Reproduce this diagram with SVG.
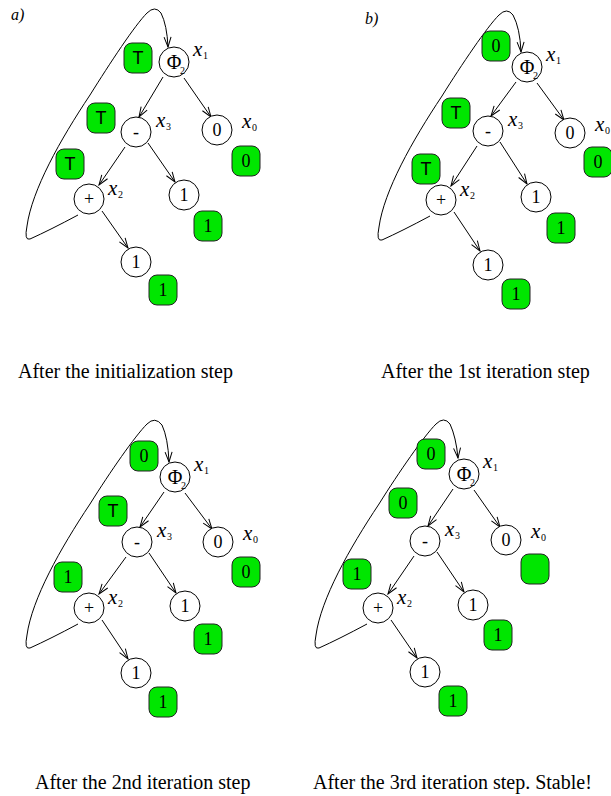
<svg xmlns="http://www.w3.org/2000/svg" width="611" height="796" viewBox="0 0 611 796">
<defs>
<marker id="arr" markerUnits="userSpaceOnUse" markerWidth="14" markerHeight="10" refX="10" refY="3.5" orient="auto" overflow="visible">
<path d="M0,0 L10,3.5 L0,7" fill="none" stroke="#000" stroke-width="1"/>
</marker>
<style>
.n{fill:#fff;stroke:#000;stroke-width:1}
.nt{font-family:"Liberation Serif",serif;font-size:18px;text-anchor:middle;fill:#000}
.phi{font-family:"Liberation Serif",serif;font-size:20px;text-anchor:middle;fill:#000}
.sub2{font-family:"Liberation Serif",serif;font-size:10px;fill:#000}
.g{fill:#00e600;stroke:#222;stroke-width:1}
.gt{font-family:"Liberation Serif",serif;font-size:18px;text-anchor:middle;fill:#000}
.gT{font-family:"Liberation Sans",sans-serif;font-size:18px;text-anchor:middle;fill:#000}
.lab{font-family:"Liberation Serif",serif;font-style:italic;font-size:21px;fill:#000}
.ls{font-family:"Liberation Serif",serif;font-size:10px;fill:#000}
.cap{font-family:"Liberation Serif",serif;font-size:20px;fill:#000}
.pl{font-family:"Liberation Serif",serif;font-style:italic;font-size:16px;fill:#000}
.e{stroke:#000;stroke-width:1;fill:none;marker-end:url(#arr)}
</style>
</defs>
<rect width="611" height="796" fill="#fff"/>

<!-- Panel labels and captions -->
<text class="pl" x="11" y="20">a)</text>
<text class="pl" x="365" y="24">b)</text>
<text class="cap" x="18" y="378">After the initialization step</text>
<text class="cap" x="381" y="378">After the 1st iteration step</text>
<text class="cap" x="35" y="789">After the 2nd iteration step</text>
<text class="cap" x="313" y="789">After the 3rd iteration step. Stable!</text>

<!-- Connectors -->
<g id="connectors">
<path class="e" d="M78,215 Q50,230 30,239 Q24,241 27,226 C32,190 60,140 90,95 C110,63 135,25 147,13 Q155,5 161,13 Q167,25 168,47"/>
<line class="e" x1="163" y1="77" x2="139" y2="117"/>
<line class="e" x1="184" y1="78" x2="211" y2="117"/>
<line class="e" x1="125" y1="147" x2="99" y2="185"/>
<line class="e" x1="148" y1="143" x2="175" y2="182"/>
<line class="e" x1="102" y1="211" x2="128" y2="248"/>

<path class="e" d="M430,216 Q402,231 382,240 Q376,242 379,227 C384,191 412,141 442,96 C462,64 487,27 499,15 Q507,7 513,15 Q520,28 521,52"/>
<line class="e" x1="516" y1="82" x2="491" y2="116"/>
<line class="e" x1="537" y1="83" x2="564" y2="120"/>
<line class="e" x1="477" y1="146" x2="451" y2="186"/>
<line class="e" x1="500" y1="142" x2="527" y2="184"/>
<line class="e" x1="454" y1="212" x2="480" y2="251"/>

<path class="e" d="M78,624 Q50,639 30,648 Q24,650 27,635 C32,599 60,549 90,504 C110,472 135,436 147,424 Q155,416 162,425 Q168,438 169,462"/>
<line class="e" x1="164" y1="492" x2="140" y2="527"/>
<line class="e" x1="185" y1="493" x2="212" y2="529"/>
<line class="e" x1="126" y1="557" x2="99" y2="594"/>
<line class="e" x1="149" y1="553" x2="176" y2="593"/>
<line class="e" x1="102" y1="620" x2="128" y2="659"/>

<path class="e" d="M367,624 Q339,639 319,648 Q313,650 316,635 C321,599 349,549 379,504 C399,472 424,436 436,424 Q444,416 450,424 Q456,437 458,458"/>
<line class="e" x1="453" y1="489" x2="428" y2="526"/>
<line class="e" x1="474" y1="490" x2="500" y2="527"/>
<line class="e" x1="414" y1="556" x2="388" y2="594"/>
<line class="e" x1="437" y1="552" x2="464" y2="592"/>
<line class="e" x1="391" y1="620" x2="417" y2="658"/>
</g>

<!-- Panel a nodes -->
<g id="a-phi"><circle class="n" cx="174" cy="62" r="15"/><text class="phi" x="174" y="69">Φ</text><text class="sub2" x="180" y="74">2</text><text class="lab" x="193" y="56">x</text><text class="ls" x="203" y="59">1</text></g>
<g id="a-minus"><circle class="n" cx="136" cy="132" r="15"/><text class="nt" x="136" y="138">-</text><text class="lab" x="156" y="127">x</text><text class="ls" x="166" y="130">3</text></g>
<g id="a-zero"><circle class="n" cx="217" cy="130" r="15"/><text class="nt" x="217" y="136">0</text><text class="lab" x="242" y="128">x</text><text class="ls" x="252" y="131">0</text></g>
<g id="a-plus"><circle class="n" cx="89" cy="199" r="15"/><text class="nt" x="89" y="205">+</text><text class="lab" x="108" y="195">x</text><text class="ls" x="118" y="198">2</text></g>
<g id="a-one1"><circle class="n" cx="184" cy="195" r="15"/><text class="nt" x="184" y="201">1</text></g>
<g id="a-one2"><circle class="n" cx="136" cy="262" r="15"/><text class="nt" x="136" y="268">1</text></g>
<g id="a-v1"><rect class="g" x="124" y="43" width="28" height="30" rx="8"/><text class="gT" x="138" y="64">T</text></g>
<g id="a-v2"><rect class="g" x="87" y="103" width="28" height="30" rx="8"/><text class="gT" x="101" y="124">T</text></g>
<g id="a-v3"><rect class="g" x="56" y="149" width="28" height="30" rx="8"/><text class="gT" x="70" y="170">T</text></g>
<g id="a-v4"><rect class="g" x="232" y="146" width="28" height="30" rx="8"/><text class="gt" x="246" y="167">0</text></g>
<g id="a-v5"><rect class="g" x="194" y="211" width="28" height="30" rx="8"/><text class="gt" x="208" y="232">1</text></g>
<g id="a-v6"><rect class="g" x="149" y="275" width="28" height="30" rx="8"/><text class="gt" x="163" y="296">1</text></g>

<!-- Panel b nodes -->
<g id="b-phi"><circle class="n" cx="527" cy="67" r="15"/><text class="phi" x="527" y="74">Φ</text><text class="sub2" x="533" y="79">2</text><text class="lab" x="546" y="61">x</text><text class="ls" x="556" y="64">1</text></g>
<g id="b-minus"><circle class="n" cx="488" cy="131" r="15"/><text class="nt" x="488" y="137">-</text><text class="lab" x="508" y="126">x</text><text class="ls" x="518" y="129">3</text></g>
<g id="b-zero"><circle class="n" cx="570" cy="133" r="15"/><text class="nt" x="570" y="139">0</text><text class="lab" x="595" y="131">x</text><text class="ls" x="605" y="134">0</text></g>
<g id="b-plus"><circle class="n" cx="441" cy="200" r="15"/><text class="nt" x="441" y="206">+</text><text class="lab" x="460" y="196">x</text><text class="ls" x="470" y="199">2</text></g>
<g id="b-one1"><circle class="n" cx="536" cy="197" r="15"/><text class="nt" x="536" y="203">1</text></g>
<g id="b-one2"><circle class="n" cx="488" cy="265" r="15"/><text class="nt" x="488" y="271">1</text></g>
<g id="b-v1"><rect class="g" x="482" y="31" width="28" height="30" rx="8"/><text class="gt" x="496" y="52">0</text></g>
<g id="b-v2"><rect class="g" x="442" y="98" width="28" height="30" rx="8"/><text class="gT" x="456" y="119">T</text></g>
<g id="b-v3"><rect class="g" x="412" y="154" width="28" height="30" rx="8"/><text class="gT" x="426" y="175">T</text></g>
<g id="b-v4"><rect class="g" x="584" y="147" width="28" height="30" rx="8"/><text class="gt" x="598" y="168">0</text></g>
<g id="b-v5"><rect class="g" x="547" y="213" width="28" height="30" rx="8"/><text class="gt" x="561" y="234">1</text></g>
<g id="b-v6"><rect class="g" x="502" y="279" width="28" height="30" rx="8"/><text class="gt" x="516" y="300">1</text></g>

<!-- Panel c nodes -->
<g id="c-phi"><circle class="n" cx="175" cy="477" r="15"/><text class="phi" x="175" y="484">Φ</text><text class="sub2" x="181" y="489">2</text><text class="lab" x="194" y="471">x</text><text class="ls" x="204" y="474">1</text></g>
<g id="c-minus"><circle class="n" cx="137" cy="542" r="15"/><text class="nt" x="137" y="548">-</text><text class="lab" x="157" y="537">x</text><text class="ls" x="167" y="540">3</text></g>
<g id="c-zero"><circle class="n" cx="218" cy="542" r="15"/><text class="nt" x="218" y="548">0</text><text class="lab" x="243" y="540">x</text><text class="ls" x="253" y="543">0</text></g>
<g id="c-plus"><circle class="n" cx="89" cy="608" r="15"/><text class="nt" x="89" y="614">+</text><text class="lab" x="108" y="604">x</text><text class="ls" x="118" y="607">2</text></g>
<g id="c-one1"><circle class="n" cx="185" cy="606" r="15"/><text class="nt" x="185" y="612">1</text></g>
<g id="c-one2"><circle class="n" cx="136" cy="673" r="15"/><text class="nt" x="136" y="679">1</text></g>
<g id="c-v1"><rect class="g" x="130" y="441" width="28" height="30" rx="8"/><text class="gt" x="144" y="462">0</text></g>
<g id="c-v2"><rect class="g" x="99" y="496" width="28" height="30" rx="8"/><text class="gT" x="113" y="517">T</text></g>
<g id="c-v3"><rect class="g" x="54" y="562" width="28" height="30" rx="8"/><text class="gt" x="68" y="583">1</text></g>
<g id="c-v4"><rect class="g" x="232" y="557" width="28" height="30" rx="8"/><text class="gt" x="246" y="578">0</text></g>
<g id="c-v5"><rect class="g" x="194" y="624" width="28" height="30" rx="8"/><text class="gt" x="208" y="645">1</text></g>
<g id="c-v6"><rect class="g" x="149" y="687" width="28" height="30" rx="8"/><text class="gt" x="163" y="708">1</text></g>

<!-- Panel d nodes -->
<g id="d-phi"><circle class="n" cx="464" cy="474" r="15"/><text class="phi" x="464" y="481">Φ</text><text class="sub2" x="470" y="486">2</text><text class="lab" x="483" y="468">x</text><text class="ls" x="493" y="471">1</text></g>
<g id="d-minus"><circle class="n" cx="425" cy="541" r="15"/><text class="nt" x="425" y="547">-</text><text class="lab" x="445" y="536">x</text><text class="ls" x="455" y="539">3</text></g>
<g id="d-zero"><circle class="n" cx="506" cy="540" r="15"/><text class="nt" x="506" y="546">0</text><text class="lab" x="531" y="538">x</text><text class="ls" x="541" y="541">0</text></g>
<g id="d-plus"><circle class="n" cx="378" cy="608" r="15"/><text class="nt" x="378" y="614">+</text><text class="lab" x="397" y="604">x</text><text class="ls" x="407" y="607">2</text></g>
<g id="d-one1"><circle class="n" cx="473" cy="605" r="15"/><text class="nt" x="473" y="611">1</text></g>
<g id="d-one2"><circle class="n" cx="425" cy="672" r="15"/><text class="nt" x="425" y="678">1</text></g>
<g id="d-v1"><rect class="g" x="417" y="439" width="28" height="30" rx="8"/><text class="gt" x="431" y="460">0</text></g>
<g id="d-v2"><rect class="g" x="389" y="488" width="28" height="30" rx="8"/><text class="gt" x="403" y="509">0</text></g>
<g id="d-v3"><rect class="g" x="343" y="559" width="28" height="30" rx="8"/><text class="gt" x="357" y="580">1</text></g>
<g id="d-v4"><rect class="g" x="521" y="554" width="28" height="30" rx="8"/></g>
<g id="d-v5"><rect class="g" x="484" y="620" width="28" height="30" rx="8"/><text class="gt" x="498" y="641">1</text></g>
<g id="d-v6"><rect class="g" x="439" y="686" width="28" height="30" rx="8"/><text class="gt" x="453" y="707">1</text></g>
</svg>
